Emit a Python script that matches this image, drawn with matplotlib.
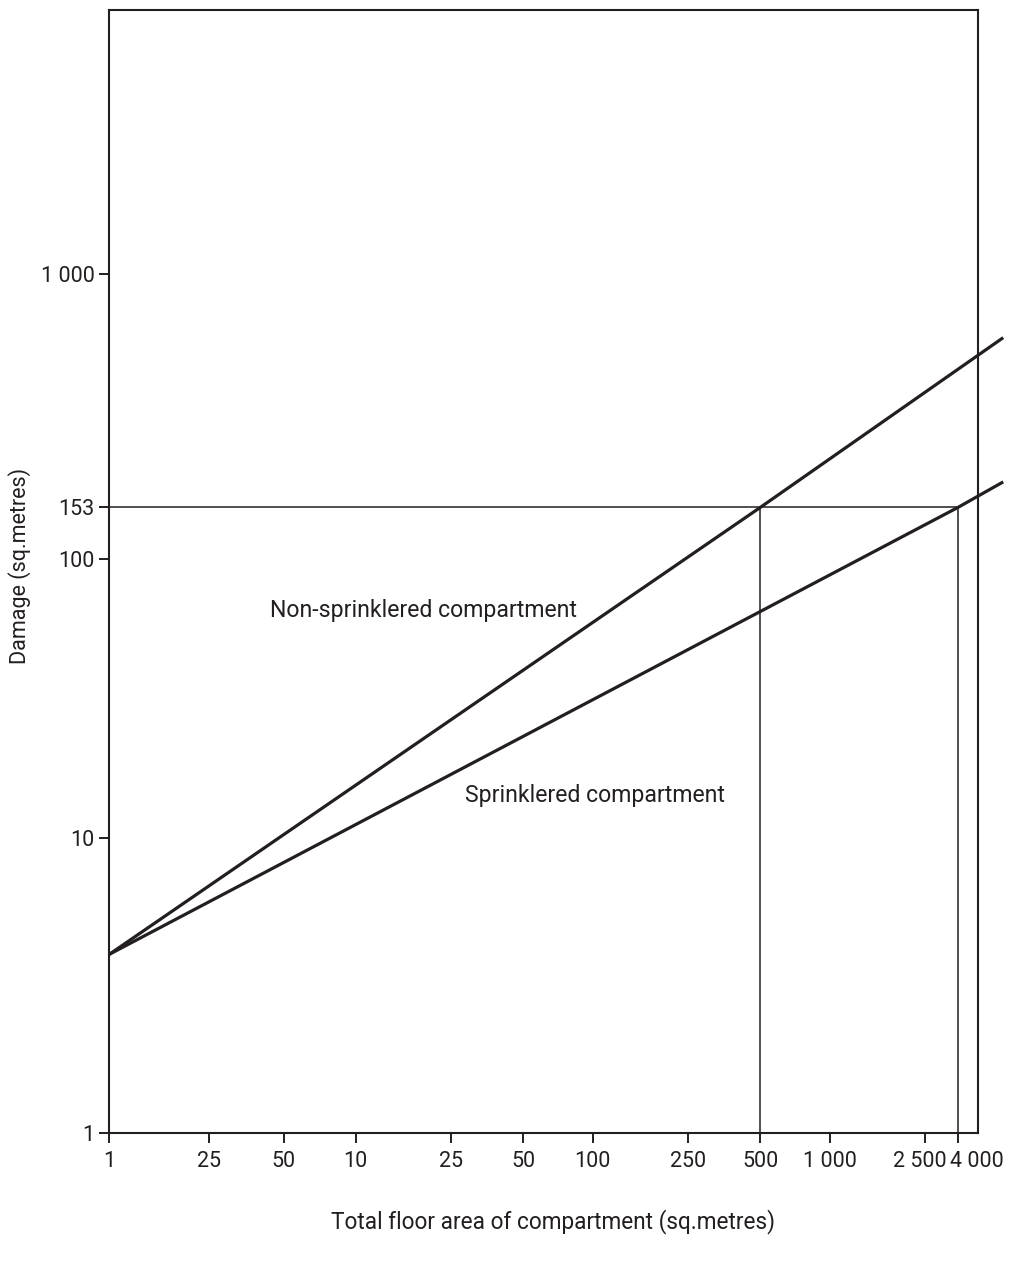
import matplotlib.pyplot as plt
from matplotlib.transforms import ScaledTranslation

# Fire damage against compartment floor area (log-log)
ink = "#231f20"

# Tick positions along the area axis and the labels printed under them
x_tick_pos = [1, 2.6, 5.3, 10.5, 26, 52, 101, 250, 500, 970, 2420, 3300]
x_tick_labels = ["1", "25", "50", "10", "25", "50", "100", "250", "500",
                 "1 000", "2 500", "4 000"]
y_tick_pos = [1, 10.7, 101, 153, 1000]
y_tick_labels = ["1", "10", "100", "153", "1 000"]

# Damage lines (area in sq.metres, damage in sq.metres)
nonspr_area = [1, 500, 5090]
nonspr_damage = [4.2, 153, 600]
spr_area = [1, 3300, 5090]
spr_damage = [4.2, 153, 188]

# Reference damage level and the areas where each line reaches it
ref_damage = 153
ref_areas = [500, 3300]

plt.rcParams["font.family"] = ["Roboto", "DejaVu Sans"]

fig = plt.figure(figsize=(10.1, 12.68), dpi=100)
ax = fig.add_axes([0.1082, 0.1067, 0.8601, 0.8854])

ax.set_xscale("log")
ax.set_yscale("log")
ax.set_xlim(1, 4000)
ax.set_ylim(1, 8375)

ax.plot(nonspr_area, nonspr_damage, color=ink, lw=2.3, clip_on=False,
        solid_capstyle="butt")
ax.plot(spr_area, spr_damage, color=ink, lw=2.3, clip_on=False,
        solid_capstyle="butt")

ax.hlines(ref_damage, 1, max(ref_areas), color=ink, lw=1.1)
ax.vlines(ref_areas, 1, ref_damage, color=ink, lw=1.1)

ax.text(4.64, 67, "Non-sprinklered compartment", fontsize=16.6, color=ink,
        ha="left", va="center")
ax.text(29.9, 15.1, "Sprinklered compartment", fontsize=16.6, color=ink,
        ha="left", va="center")

ax.xaxis.set_major_locator(plt.FixedLocator(x_tick_pos))
ax.xaxis.set_major_formatter(plt.FixedFormatter(x_tick_labels))
ax.xaxis.set_minor_locator(plt.NullLocator())
ax.yaxis.set_major_locator(plt.FixedLocator(y_tick_pos))
ax.yaxis.set_major_formatter(plt.FixedFormatter(y_tick_labels))
ax.yaxis.set_minor_locator(plt.NullLocator())

ax.tick_params(axis="both", direction="out", length=7.5, width=1.4,
               color=ink, labelcolor=ink, labelsize=15.5)
ax.tick_params(axis="x", pad=6)
ax.tick_params(axis="y", pad=3)

# the last two area labels sit close together, nudge them apart
shifts = {"2 500": -0.06, "4 000": 0.19}
for tick, text in zip(ax.xaxis.get_major_ticks(len(x_tick_pos)), x_tick_labels):
    if text in shifts:
        tick.label1.set_transform(tick.label1.get_transform()
                                  + ScaledTranslation(shifts[text], 0, fig.dpi_scale_trans))

for side in ["left", "right", "top", "bottom"]:
    ax.spines[side].set_color(ink)
    ax.spines[side].set_linewidth(1.5)

fig.text(553 / 1010, 1 - 1222 / 1268, "Total floor area of compartment (sq.metres)",
         fontsize=16.3, color=ink, ha="center", va="center")
fig.text(20 / 1010, 1 - 566 / 1268, "Damage (sq.metres)", fontsize=15.5, color=ink,
         ha="center", va="center", rotation=90)

fig.savefig("out.png", dpi=100, facecolor="white")
plt.close(fig)
